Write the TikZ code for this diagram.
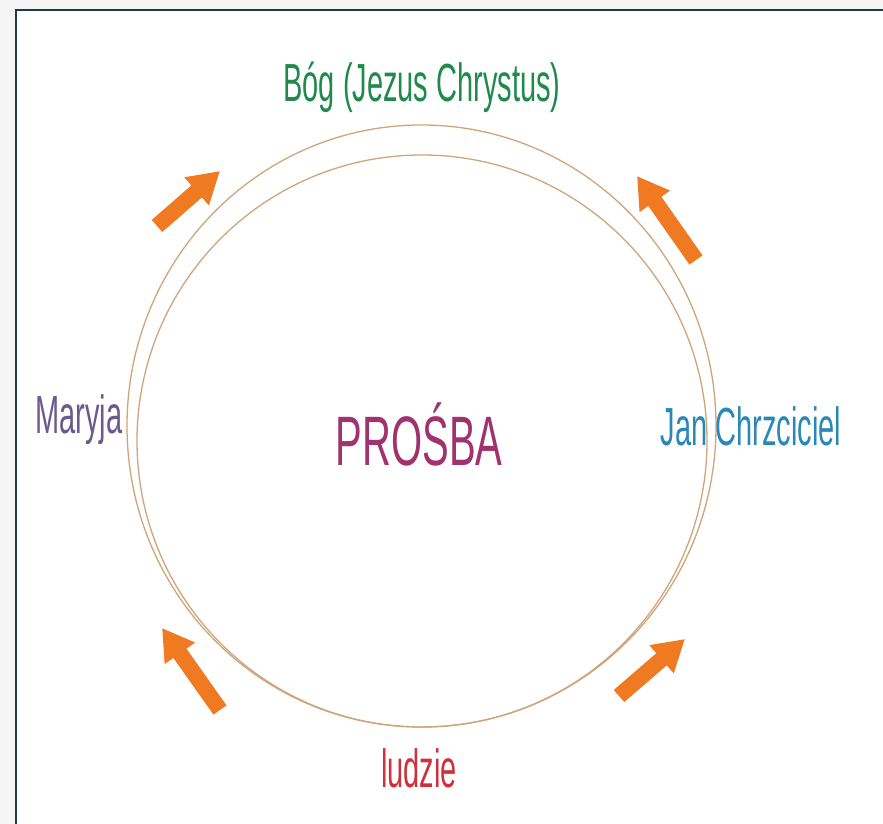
\documentclass[tikz,border=0pt]{standalone}
\usepackage{fontspec}
\setmainfont{Liberation Sans}
\usepackage{graphicx}
\usetikzlibrary{arrows.meta}

\definecolor{ringc}{HTML}{CFA57C}
\definecolor{arrc}{HTML}{F07A21}
\definecolor{framec}{HTML}{1C3B44}
\definecolor{godc}{HTML}{1F8A4C}
\definecolor{maryc}{HTML}{6A5A8E}
\definecolor{johnc}{HTML}{2A88B8}
\definecolor{askc}{HTML}{A0326E}
\definecolor{menc}{HTML}{D0303C}

\newcommand{\tall}[2][1.85]{\scalebox{1}[#1]{#2}}

\begin{document}
\begin{tikzpicture}[x=1pt, y=-1pt,
  who/.style={anchor=base, inner sep=0pt, font=\fontsize{29}{30}\selectfont},
  ring/.style={draw=ringc, line width=1.3pt},
  arr/.style={draw=arrc, line width=16pt, -{Triangle[length=31pt,width=35pt]}}
]
\useasboundingbox (0,0) rectangle (883,824);
\fill[gray!8] (0,0) rectangle (883,824);
\fill[white] (16,10) rectangle (883,824);
\draw[framec, line width=2pt] (16,824) -- (16,10) -- (883,10);

% the two rings
\draw[ring] (421.5,426) ellipse [x radius=294.5, y radius=301];
\draw[ring] (422,441) ellipse [x radius=285, y radius=286];

\node[who, text=godc]  (god)  at (422,102) {\tall{Bóg (Jezus Chrystus)}};
\node[who, text=maryc] (mary) at (79,433)  {\tall{Maryja}};
\node[who, text=johnc] (john) at (751,445) {\tall{Jan Chrzciciel}};
\node[who, text=menc]  (men)  at (419,787) {\tall{ludzie}};
\node[who, text=askc, font=\fontsize{40}{42}\selectfont] (ask) at (419,465) {\tall[1.75]{PROŚBA}};

% arrows round the rings
\coordinate (tlS) at (157,226); \coordinate (tlE) at (220,171);
\coordinate (trS) at (696,260); \coordinate (trE) at (637,176);
\coordinate (blS) at (220,710); \coordinate (blE) at (162,628);
\coordinate (brS) at (619,696); \coordinate (brE) at (685,639);

\draw[arr] (tlS) -- (tlE);
\draw[arr] (trS) -- (trE);
\draw[arr] (blS) -- (blE);
\draw[arr] (brS) -- (brE);

\end{tikzpicture}
\end{document}
